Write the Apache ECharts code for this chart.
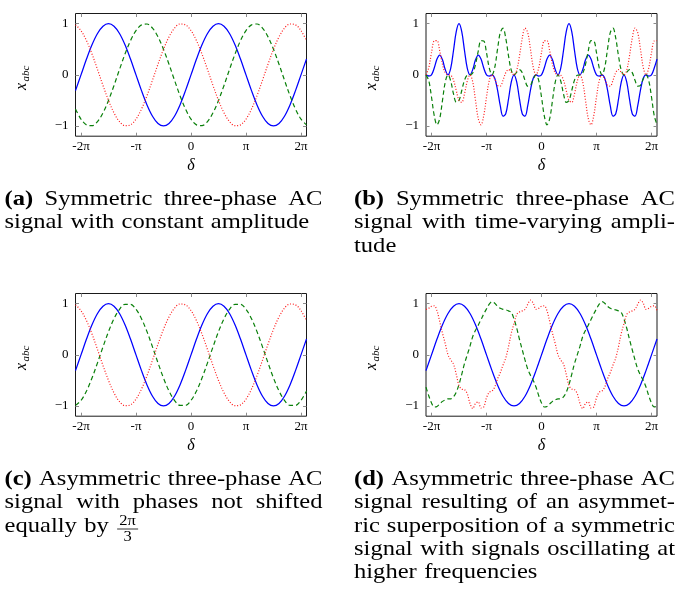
<!DOCTYPE html>
<html><head><meta charset="utf-8">
<script src="https://cdn.jsdelivr.net/npm/echarts@6/dist/echarts.min.js"></script>
<style>html,body{margin:0;padding:0;background:#fff}#c{width:676px;height:590px}</style>
</head><body><div id="c"></div><script>
// δ sample positions, in units of π
const deltaCoarse = [-2.1,-2.0,-1.9,-1.8,-1.7,-1.6,-1.5,-1.4,-1.3,-1.2,-1.1,-1.0,-0.9,-0.8,-0.7,-0.6,-0.5,-0.4,-0.3,-0.2,-0.1,0,0.1,0.2,0.3,0.4,0.5,0.6,0.7,0.8,0.9,1.0,1.1,1.2,1.3,1.4,1.5,1.6,1.7,1.8,1.9,2.0,2.1];
const deltaFine = [-2.1,-2.05,-2,-1.95,-1.9,-1.85,-1.8,-1.75,-1.7,-1.65,-1.6,-1.55,-1.5,-1.45,-1.4,-1.35,-1.3,-1.25,-1.2,-1.15,-1.1,-1.05,-1,-0.95,-0.9,-0.85,-0.8,-0.75,-0.7,-0.65,-0.6,-0.55,-0.5,-0.45,-0.4,-0.35,-0.3,-0.25,-0.2,-0.15,-0.1,-0.05,0,0.05,0.1,0.15,0.2,0.25,0.3,0.35,0.4,0.45,0.5,0.55,0.6,0.65,0.7,0.75,0.8,0.85,0.9,0.95,1,1.05,1.1,1.15,1.2,1.25,1.3,1.35,1.4,1.45,1.5,1.55,1.6,1.65,1.7,1.75,1.8,1.85,1.9,1.95,2,2.05,2.1];

const xTickValues = [-2,-1,0,1,2];
const xTickLabels = ['-2π','-π','0','π','2π'];
const yTickValues = [-1,0,1];
const yTickLabels = ['−1','0','1'];

// (a)
const aBlue = [-0.309,0,0.309,0.588,0.809,0.951,1,0.951,0.809,0.588,0.309,0,-0.309,-0.588,-0.809,-0.951,-1,-0.951,-0.809,-0.588,-0.309,0,0.309,0.588,0.809,0.951,1,0.951,0.809,0.588,0.309,0,-0.309,-0.588,-0.809,-0.951,-1,-0.951,-0.809,-0.588,-0.309,0,0.309];
const aGreen = [-0.669,-0.866,-0.978,-0.995,-0.914,-0.743,-0.5,-0.208,0.105,0.407,0.669,0.866,0.978,0.995,0.914,0.743,0.5,0.208,-0.105,-0.407,-0.669,-0.866,-0.978,-0.995,-0.914,-0.743,-0.5,-0.208,0.105,0.407,0.669,0.866,0.978,0.995,0.914,0.743,0.5,0.208,-0.105,-0.407,-0.669,-0.866,-0.978];
const aRed = [0.978,0.866,0.669,0.407,0.105,-0.208,-0.5,-0.743,-0.914,-0.995,-0.978,-0.866,-0.669,-0.407,-0.105,0.208,0.5,0.743,0.914,0.995,0.978,0.866,0.669,0.407,0.105,-0.208,-0.5,-0.743,-0.914,-0.995,-0.978,-0.866,-0.669,-0.407,-0.105,0.208,0.5,0.743,0.914,0.995,0.978,0.866,0.669];

// (b)
const bBlue = [0,-0.023,0,0.133,0.309,0.388,0.294,0.103,0,0.130,0.476,0.844,1,0.844,0.476,0.130,0,0.103,0.294,0.388,0.309,0.133,0,-0.023,0,-0.066,-0.294,-0.604,-0.809,-0.761,-0.476,-0.144,0,-0.144,-0.476,-0.761,-0.809,-0.604,-0.294,-0.066,
 0,-0.023,0,0.133,0.309,0.388,0.294,0.103,0,0.130,0.476,0.844,1,0.844,0.476,0.130,0,0.103,0.294,0.388,0.309,0.133,0,-0.023,0,-0.066,-0.294,-0.604,-0.809,-0.761,-0.476,-0.144,0,-0.144,-0.476,-0.761,-0.809,-0.604,-0.294,-0.066,
 0,-0.023,0,0.133,0.309];
const bGreen = [0,-0.113,-0.433,-0.798,-0.978,-0.853,-0.498,-0.141,0,-0.122,-0.372,-0.537,-0.5,-0.306,-0.104,-0.008,0,0.038,0.204,0.465,0.669,0.664,0.433,0.136,0,0.146,0.498,0.825,0.914,0.717,0.372,0.092,0,0.052,0.104,0.044,-0.105,-0.221,-0.204,-0.080,
 0,-0.113,-0.433,-0.798,-0.978,-0.853,-0.498,-0.141,0,-0.122,-0.372,-0.537,-0.5,-0.306,-0.104,-0.008,0,0.038,0.204,0.465,0.669,0.664,0.433,0.136,0,0.146,0.498,0.825,0.914,0.717,0.372,0.092,0,0.052,0.104,0.044,-0.105,-0.221,-0.204,-0.080,
 0,-0.113,-0.433,-0.798,-0.978];
const bRed = [0,0.136,0.433,0.664,0.669,0.465,0.204,0.038,0,-0.008,-0.104,-0.306,-0.5,-0.537,-0.372,-0.122,0,-0.141,-0.498,-0.853,-0.978,-0.798,-0.433,-0.113,0,-0.080,-0.204,-0.221,-0.105,0.044,0.104,0.052,0,0.092,0.372,0.717,0.914,0.825,0.498,0.146,
 0,0.136,0.433,0.664,0.669,0.465,0.204,0.038,0,-0.008,-0.104,-0.306,-0.5,-0.537,-0.372,-0.122,0,-0.141,-0.498,-0.853,-0.978,-0.798,-0.433,-0.113,0,-0.080,-0.204,-0.221,-0.105,0.044,0.104,0.052,0,0.092,0.372,0.717,0.914,0.825,0.498,0.146,
 0,0.136,0.433,0.664,0.669];

// (c)
const cBlue = [-0.309,0,0.309,0.588,0.809,0.951,1,0.951,0.809,0.588,0.309,0,-0.309,-0.588,-0.809,-0.951,-1,-0.951,-0.809,-0.588,-0.309,0,0.309,0.588,0.809,0.951,1,0.951,0.809,0.588,0.309,0,-0.309,-0.588,-0.809,-0.951,-1,-0.951,-0.809,-0.588,-0.309,0,0.309];
const cGreen = [-0.988,-0.891,-0.707,-0.454,-0.156,0.156,0.454,0.707,0.891,0.988,0.988,0.891,0.707,0.454,0.156,-0.156,-0.454,-0.707,-0.891,-0.988,-0.988,-0.891,-0.707,-0.454,-0.156,0.156,0.454,0.707,0.891,0.988,0.988,0.891,0.707,0.454,0.156,-0.156,-0.454,-0.707,-0.891,-0.988,-0.988,-0.891,-0.707];
const cRed = [0.978,0.866,0.669,0.407,0.105,-0.208,-0.5,-0.743,-0.914,-0.995,-0.978,-0.866,-0.669,-0.407,-0.105,0.208,0.5,0.743,0.914,0.995,0.978,0.866,0.669,0.407,0.105,-0.208,-0.5,-0.743,-0.914,-0.995,-0.978,-0.866,-0.669,-0.407,-0.105,0.208,0.5,0.743,0.914,0.995,0.978,0.866,0.669];

// (d)
const dBlue = [-0.309,0,0.309,0.588,0.809,0.951,1,0.951,0.809,0.588,0.309,0,-0.309,-0.588,-0.809,-0.951,-1,-0.951,-0.809,-0.588,-0.309,0,0.309,0.588,0.809,0.951,1,0.951,0.809,0.588,0.309,0,-0.309,-0.588,-0.809,-0.951,-1,-0.951,-0.809,-0.588,-0.309,0,0.309];
const dGreen = [-0.63,-0.80,-0.94,-1.02,-1.01,-0.96,-0.91,-0.88,-0.86,-0.86,-0.82,-0.73,-0.58,-0.38,-0.17,0.0,0.17,0.36,0.48,0.58,0.69,0.80,0.90,0.99,1.04,1.01,0.95,0.91,0.89,0.88,0.86,0.83,0.70,0.52,0.30,0.10,-0.10,-0.28,-0.40,-0.50,
 -0.63,-0.80,-0.94,-1.02,-1.01,-0.96,-0.91,-0.88,-0.86,-0.86,-0.82,-0.73,-0.58,-0.38,-0.17,0.0,0.17,0.36,0.48,0.58,0.69,0.80,0.90,0.99,1.04,1.01,0.95,0.91,0.89,0.88,0.86,0.83,0.70,0.52,0.30,0.10,-0.10,-0.28,-0.40,-0.50,
 -0.63,-0.80,-0.94,-1.02,-1.01];
const dRed = [0.89,0.91,0.95,0.96,0.86,0.65,0.42,0.22,0.0,-0.10,-0.18,-0.38,-0.60,-0.67,-0.68,-0.76,-0.95,-1.05,-0.95,-0.92,-1.04,-1.02,-0.84,-0.73,-0.71,-0.63,-0.47,-0.35,-0.20,-0.06,0.16,0.42,0.61,0.79,0.84,0.86,0.89,0.99,1.07,1.01,
 0.89,0.91,0.95,0.96,0.86,0.65,0.42,0.22,0.0,-0.10,-0.18,-0.38,-0.60,-0.67,-0.68,-0.76,-0.95,-1.05,-0.95,-0.92,-1.04,-1.02,-0.84,-0.73,-0.71,-0.63,-0.47,-0.35,-0.20,-0.06,0.16,0.42,0.61,0.79,0.84,0.86,0.89,0.99,1.07,1.01,
 0.89,0.91,0.95,0.96,0.86];

const captionA = ['(a) Symmetric three-phase AC', 'signal with constant amplitude'];
const captionB = ['(b) Symmetric three-phase AC', 'signal with time-varying ampli-', 'tude'];
const captionC = ['(c) Asymmetric three-phase AC', 'signal with phases not shifted', 'equally by'];
const captionD = ['(d) Asymmetric three-phase AC', 'signal resulting of an asymmet-', 'ric superposition of a symmetric', 'signal with signals oscillating at', 'higher frequencies'];

// ---------- layout ----------
const SERIF = '"Liberation Serif", "Times New Roman", serif';
const panelsPos = [
  {left: 75.5, top: 13.5}, {left: 426, top: 13.5},
  {left: 75.5, top: 293.5}, {left: 426, top: 293.5}
];
const GW = 231, GH = 122.7;
const panelsData = [
  [[deltaCoarse, aBlue], [deltaCoarse, aGreen], [deltaCoarse, aRed]],
  [[deltaFine, bBlue], [deltaFine, bGreen], [deltaFine, bRed]],
  [[deltaCoarse, cBlue], [deltaCoarse, cGreen], [deltaCoarse, cRed]],
  [[deltaCoarse, dBlue], [deltaFine, dGreen], [deltaFine, dRed]]
];
const styles = [
  {color: '#0000ff', width: 1.25, type: 'solid'},
  {color: '#0a800a', width: 1.2, type: [4.5, 3]},
  {color: '#ff1a1a', width: 1.2, type: [1, 1.8]}
];

const grids = [], xAxes = [], yAxes = [], series = [], graphics = [];
const tickStyle = {color: '#8c8c8c', width: 1};
const noLine = {show: false, onZero: false};
panelsPos.forEach((p, i) => {
  grids.push({left: p.left, top: p.top, width: GW, height: GH, show: true, borderColor: '#1a1a1a', borderWidth: 1, backgroundColor: 'transparent', outerBoundsMode: 'none', containLabel: false});
  const xBase = {type: 'value', gridIndex: i, min: -2.1, max: 2.1, splitLine: {show: false}, axisLine: noLine};
  xAxes.push(Object.assign({}, xBase, {position: 'bottom',
    axisTick: {show: true, inside: true, length: 3.5, customValues: xTickValues, lineStyle: tickStyle},
    axisLabel: {show: true, customValues: xTickValues, margin: 4, color: '#000', fontFamily: SERIF, fontSize: 13,
      formatter: v => xTickLabels[xTickValues.indexOf(Math.round(v))]}}));
  xAxes.push(Object.assign({}, xBase, {position: 'top',
    axisTick: {show: true, inside: true, length: 3.5, customValues: xTickValues, lineStyle: tickStyle},
    axisLabel: {show: false}}));
  const yBase = {type: 'value', gridIndex: i, min: -1.2, max: 1.2, splitLine: {show: false}, axisLine: noLine};
  yAxes.push(Object.assign({}, yBase, {position: 'left',
    axisTick: {show: true, inside: true, length: 3.5, customValues: yTickValues, lineStyle: tickStyle},
    axisLabel: {show: true, customValues: yTickValues, margin: 7, color: '#000', fontFamily: SERIF, fontSize: 13,
      formatter: v => yTickLabels[yTickValues.indexOf(Math.round(v))]}}));
  yAxes.push(Object.assign({}, yBase, {position: 'right',
    axisTick: {show: true, inside: true, length: 3.5, customValues: yTickValues, lineStyle: tickStyle},
    axisLabel: {show: false}}));
  panelsData[i].forEach((sd, k) => {
    const xs = sd[0], ys = sd[1];
    series.push({type: 'line', xAxisIndex: 2 * i, yAxisIndex: 2 * i, showSymbol: false, symbol: 'none',
      smooth: 0.35, clip: true, silent: true,
      lineStyle: styles[k], data: xs.map((x, j) => [x, ys[j]])});
  });
  // axis titles
  graphics.push({type: 'text', x: p.left + GW / 2, y: p.top + 152, style: {text: 'δ', font: 'italic 16px ' + SERIF, fill: '#000', textAlign: 'center', textVerticalAlign: 'middle', align: 'center', verticalAlign: 'middle'}});
  graphics.push({type: 'group', x: p.left - 48.5, y: p.top + 63, rotation: Math.PI / 2, children: [
    {type: 'text', x: -13.5, y: -0.3375 * 16, style: {text: 'x', font: 'italic 16px ' + SERIF, fill: '#000', textAlign: 'left', textVerticalAlign: 'middle', align: 'left', verticalAlign: 'middle'}},
    {type: 'text', x: -5, y: 2.5 - 0.3375 * 11, style: {text: 'abc', font: 'italic 11px ' + SERIF, fill: '#000', textAlign: 'left', textVerticalAlign: 'middle', align: 'left', verticalAlign: 'middle'}}
  ]});
});

// captions
const ctx2 = document.createElement('canvas').getContext('2d');
function tw(t, font) { ctx2.font = font; return ctx2.measureText(t).width; }
const CAP_PX = 21, CAP_SX = 1.17, LINE_SKIP = 23.3;
const capFont = CAP_PX + 'px ' + SERIF;
const capBold = 'bold ' + capFont;
function layoutCaption(lines, x0, x1, base) {
  let endX = x0, lastY = base;
  lines.forEach((line, li) => {
    const words = line.split(' ');
    const fonts = words.map((w, wi) => (li === 0 && wi === 0) ? capBold : capFont);
    const widths = words.map((w, wi) => tw(w, fonts[wi]) * CAP_SX);
    const total = widths.reduce((a, b) => a + b, 0);
    const last = li === lines.length - 1;
    const gap = (!last && words.length > 1) ? (x1 - x0 - total) / (words.length - 1) : 0.3 * CAP_PX * CAP_SX;
    let x = x0;
    const bl = base + li * LINE_SKIP;
    words.forEach((w, wi) => {
      graphics.push({type: 'text', x: x, y: bl - 0.3375 * CAP_PX, scaleX: CAP_SX,
        style: {text: w, font: fonts[wi], fill: '#000', textAlign: 'left', textVerticalAlign: 'middle', align: 'left', verticalAlign: 'middle'}});
      x += widths[wi] + gap;
    });
    endX = x - gap; lastY = bl;
  });
  return {endX: endX, baseline: lastY};
}
layoutCaption(captionA, 4.5, 322.5, 206.7);
layoutCaption(captionB, 354, 675, 206.7);
const cEnd = layoutCaption(captionC, 4.5, 322.5, 486.7);
layoutCaption(captionD, 354, 675, 486.7);
// fraction 2π/3 after "equally by"
(function () {
  const fx = cEnd.endX + 0.3 * CAP_PX * CAP_SX + 1;
  const fw = 21;
  const fb = cEnd.baseline;
  const ff = '15px ' + SERIF;
  graphics.push({type: 'text', x: fx + fw / 2, y: fb - 7.5 - 0.3375 * 15, scaleX: 1.1, style: {text: '2π', font: ff, fill: '#000', textAlign: 'center', textVerticalAlign: 'middle', align: 'center', verticalAlign: 'middle'}});
  graphics.push({type: 'line', shape: {x1: fx, y1: fb - 4.3, x2: fx + fw, y2: fb - 4.3}, style: {stroke: '#000', lineWidth: 0.8}});
  graphics.push({type: 'text', x: fx + fw / 2, y: fb + 9 - 0.3375 * 15, scaleX: 1.1, style: {text: '3', font: ff, fill: '#000', textAlign: 'center', textVerticalAlign: 'middle', align: 'center', verticalAlign: 'middle'}});
})();

const chart = echarts.init(document.getElementById('c'), null, {renderer: 'canvas'});
chart.setOption({
  backgroundColor: '#fff',
  animation: false,
  grid: grids,
  xAxis: xAxes,
  yAxis: yAxes,
  series: series,
  graphic: {elements: graphics}
});
</script></body></html>
